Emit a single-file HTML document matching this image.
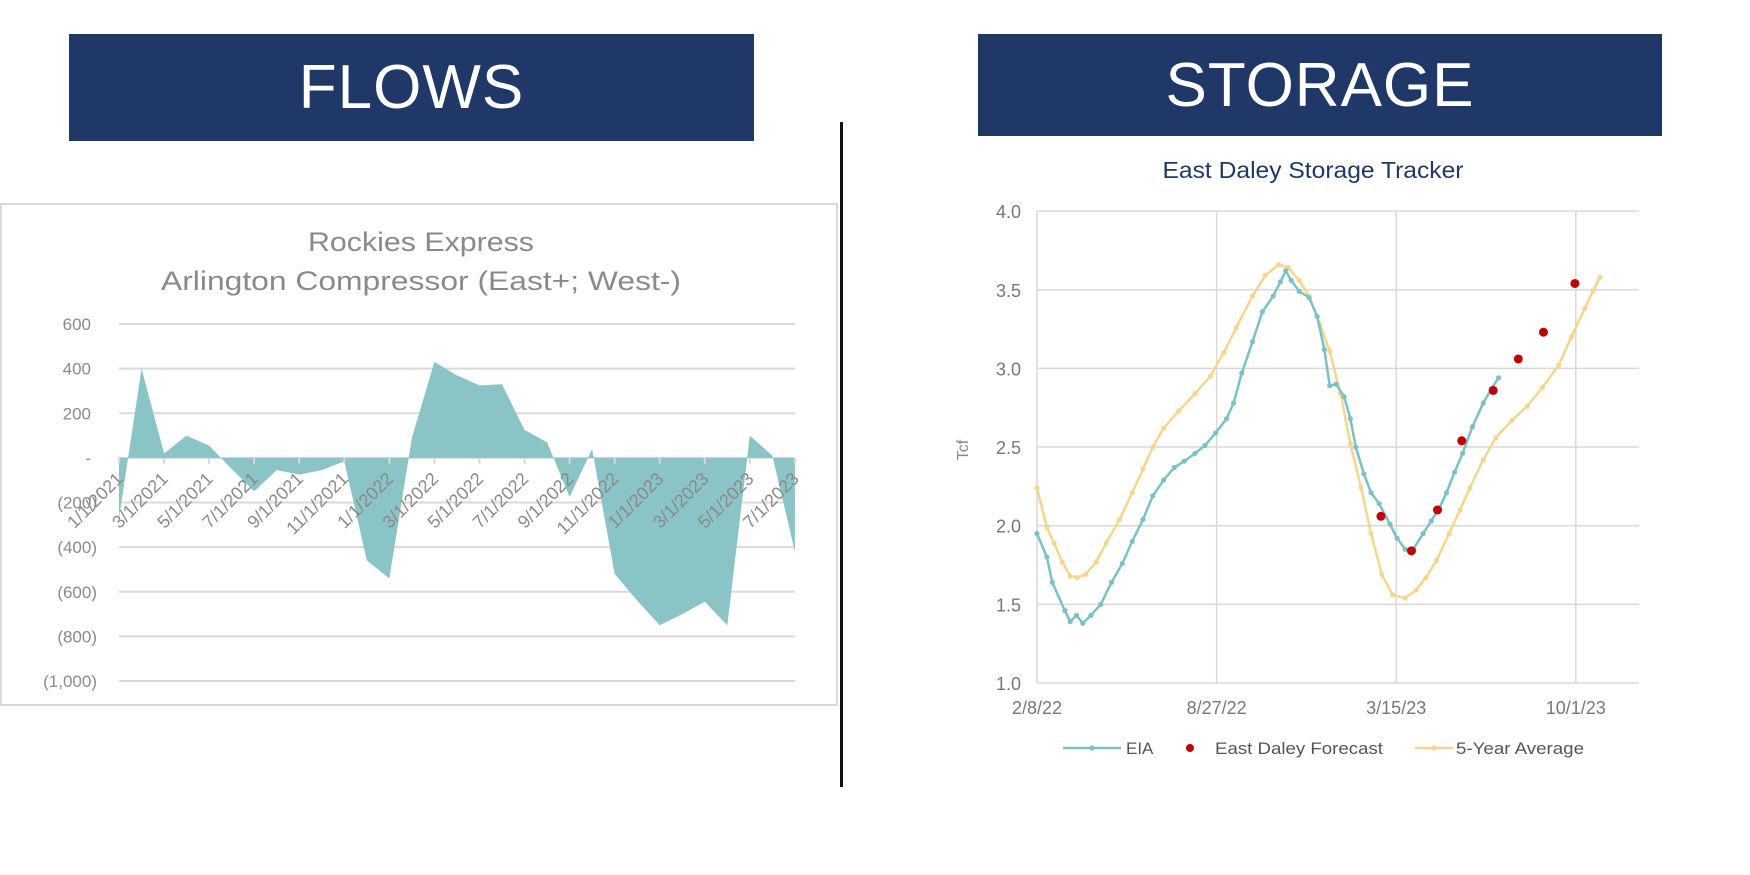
<!DOCTYPE html>
<html><head><meta charset="utf-8"><style>
body{margin:0;background:#fff;width:1750px;height:875px;overflow:hidden;position:relative;font-family:"Liberation Sans",sans-serif}
.banner{position:absolute;background:#1f3868;color:#fff;display:flex;align-items:center;justify-content:center;font-size:62px;letter-spacing:1px}
svg{position:absolute;left:0;top:0}
</style></head><body>
<div class="banner" style="left:69px;top:34px;width:685px;height:107px">FLOWS</div>
<div class="banner" style="left:978px;top:34px;width:684px;height:102px">STORAGE</div>
<div style="position:absolute;left:840px;top:122px;width:3px;height:665px;background:#111"></div>
<svg id="svg" width="1750" height="875" xmlns="http://www.w3.org/2000/svg">
<rect x="1" y="204" width="836" height="501" fill="none" stroke="#d9d9d9" stroke-width="2"/>
<g font-family="'Liberation Sans',sans-serif" fill="#8a8a8a" font-size="27" text-anchor="middle">
<text x="421" y="251" textLength="226" lengthAdjust="spacingAndGlyphs">Rockies Express</text>
<text x="421" y="290" textLength="520" lengthAdjust="spacingAndGlyphs">Arlington Compressor (East+;  West-)</text>
</g>
<text x="1313" y="178" text-anchor="middle" font-size="23" fill="#1f3868" textLength="301" lengthAdjust="spacingAndGlyphs">East Daley Storage Tracker</text>
<text transform="translate(968,450) rotate(-90)" text-anchor="middle" font-size="16" fill="#888">Tcf</text>
<g id="flows"></g><g id="storage"></g>
</svg>
<script>
// ---- Flows chart data ----
const flowMonths = ["1/1/2021","2/1/2021","3/1/2021","4/1/2021","5/1/2021","6/1/2021","7/1/2021","8/1/2021","9/1/2021","10/1/2021","11/1/2021","12/1/2021","1/1/2022","2/1/2022","3/1/2022","4/1/2022","5/1/2022","6/1/2022","7/1/2022","8/1/2022","9/1/2022","10/1/2022","11/1/2022","12/1/2022","1/1/2023","2/1/2023","3/1/2023","4/1/2023","5/1/2023","6/1/2023","7/1/2023"];
const flowValues = [-270,400,20,100,55,-50,-150,-55,-75,-55,-15,-460,-540,90,430,370,325,330,125,70,-175,40,-520,-640,-750,-700,-645,-750,100,10,-420];
const flowTicks = [600,400,200,0,-200,-400,-600,-800,-1000];
const flowTickLabels = ["600","400","200","-","(200)","(400)","(600)","(800)","(1,000)"];

// ---- Storage chart data (days since 2/8/22) ----
const eiaDays = [0,11,17,31,37,44,51,60,71,83,95,106,118,129,141,153,164,176,187,199,211,219,228,240,251,263,271,277,283,292,303,312,320,326,333,342,349,355,364,372,381,393,401,410,419,430,439,448,456,465,474,485,497,506,514];
const eiaValues = [1.95,1.80,1.64,1.46,1.39,1.43,1.38,1.43,1.50,1.64,1.76,1.90,2.04,2.19,2.29,2.37,2.41,2.46,2.51,2.59,2.68,2.78,2.97,3.17,3.36,3.46,3.55,3.62,3.56,3.49,3.45,3.33,3.12,2.89,2.90,2.82,2.68,2.50,2.33,2.21,2.14,2.01,1.92,1.85,1.85,1.95,2.03,2.11,2.21,2.34,2.46,2.63,2.78,2.87,2.94];
const avgDays = [0,11,19,28,37,45,54,66,77,92,106,118,129,141,158,176,193,208,222,240,254,269,280,292,303,315,326,338,349,361,372,384,396,410,422,433,445,459,471,482,497,511,529,546,563,581,595,610,619,627];
const avgValues = [2.24,1.99,1.89,1.77,1.68,1.67,1.69,1.77,1.89,2.04,2.21,2.36,2.50,2.62,2.73,2.84,2.95,3.10,3.26,3.46,3.59,3.66,3.64,3.56,3.46,3.28,3.11,2.84,2.52,2.24,1.95,1.69,1.56,1.54,1.59,1.67,1.78,1.95,2.10,2.24,2.42,2.56,2.67,2.76,2.88,3.02,3.20,3.38,3.49,3.58];
const fcDays = [383,417,446,473,508,536,564,599];
const fcValues = [2.06,1.84,2.10,2.54,2.86,3.06,3.23,3.54];
const stTicks = [1.0,1.5,2.0,2.5,3.0,3.5,4.0];
const stXTickDays = [0,200,400,600];
const stXTickLabels = ["2/8/22","8/27/22","3/15/23","10/1/23"];

const NS="http://www.w3.org/2000/svg";
function mk(tag,attrs,parent,txt){const e=document.createElementNS(NS,tag);for(const k in attrs)e.setAttribute(k,attrs[k]);if(txt!==undefined)e.textContent=txt;parent.appendChild(e);return e;}

// Flows axes
const fx=i=>119+i*22.53;
const fy=v=>324+(600-v)*(357/1600);
const fg=document.getElementById('flows');
flowTicks.forEach((t,i)=>{
  const l=mk('line',{x1:119,x2:795,y1:fy(t),y2:fy(t),stroke:'#d9d9d9','stroke-width':2},fg);
  
  
  const tx=mk('text',{x:t<0?97:91,y:fy(t)+6,'text-anchor':'end','font-size':17,fill:'#8a8a8a'},fg,flowTickLabels[i]);
  
  
});
let d='M'+fx(0)+','+fy(0);
flowValues.forEach((v,i)=>{d+=' L'+fx(i)+','+fy(v);});
d+=' L'+fx(flowValues.length-1)+','+fy(0)+' Z';
const area=mk('path',{d:d,fill:'#8ac4c6'},fg);


flowMonths.forEach((m,i)=>{
  if(i%2)return;
  const tk=mk('line',{x1:fx(i),x2:fx(i),y1:fy(0),y2:fy(0)+6,stroke:'#d9d9d9','stroke-width':2},fg);
  
  
  const t=mk('text',{transform:'translate('+(fx(i)+5)+','+(fy(0)+22)+') rotate(-45)','text-anchor':'end','font-size':18,fill:'#8a8a8a'},fg,m);
  
  
});

// Storage axes
const sx=day=>1037+day*0.898;
const sy=v=>683-(v-1)*157.3;
const sg=document.getElementById('storage');
stTicks.forEach(t=>{
  const l=mk('line',{x1:1037,x2:1639,y1:sy(t),y2:sy(t),stroke:'#d9d9d9','stroke-width':1.5},sg);
  
  
  const tx=mk('text',{x:1021,y:sy(t)+7,'text-anchor':'end','font-size':18,fill:'#777'},sg,t.toFixed(1));
  
  
});
stXTickDays.forEach((dd,i)=>{
  const l=mk('line',{x1:sx(dd),x2:sx(dd),y1:sy(4),y2:sy(1),stroke:'#d9d9d9','stroke-width':1.5},sg);
  
  
  const tx=mk('text',{x:sx(dd),y:714,'text-anchor':'middle','font-size':18,fill:'#777'},sg,stXTickLabels[i]);
  
  
});
function series(days,vals,color,name){
  const pts=days.map((dd,i)=>sx(dd)+','+sy(vals[i])).join(' ');
  const pl=mk('polyline',{points:pts,fill:'none',stroke:color,'stroke-width':2.5},sg);
  
  
  days.forEach((dd,i)=>{
    const c=mk('circle',{cx:sx(dd),cy:sy(vals[i]),r:2.6,fill:color},sg);
    
    
  });
}
series(avgDays,avgValues,'#f3d68f','five-year-average');
series(eiaDays,eiaValues,'#7cc1c4','eia');
fcDays.forEach((dd,i)=>{
  const c=mk('circle',{cx:sx(dd),cy:sy(fcValues[i]),r:4.5,fill:'#c00000'},sg);
  
  
});
// legend
const lg=mk('g',{},sg);


mk('line',{x1:1063,x2:1121,y1:748,y2:748,stroke:'#7cc1c4','stroke-width':2.5},lg);
mk('circle',{cx:1092,cy:748,r:2.6,fill:'#7cc1c4'},lg);
mk('text',{x:1126,y:754,'font-size':17,fill:'#555'},lg,'EIA');
mk('circle',{cx:1190,cy:748,r:4,fill:'#c00000'},lg);
mk('text',{x:1215,y:754,'font-size':17,fill:'#555',textLength:168,lengthAdjust:'spacingAndGlyphs'},lg,'East Daley Forecast');
mk('line',{x1:1415,x2:1453,y1:748,y2:748,stroke:'#f3d68f','stroke-width':2.5},lg);
mk('circle',{cx:1434,cy:748,r:2.6,fill:'#f3d68f'},lg);
mk('text',{x:1456,y:754,'font-size':17,fill:'#555',textLength:128,lengthAdjust:'spacingAndGlyphs'},lg,'5-Year Average');
</script>
</body></html>
